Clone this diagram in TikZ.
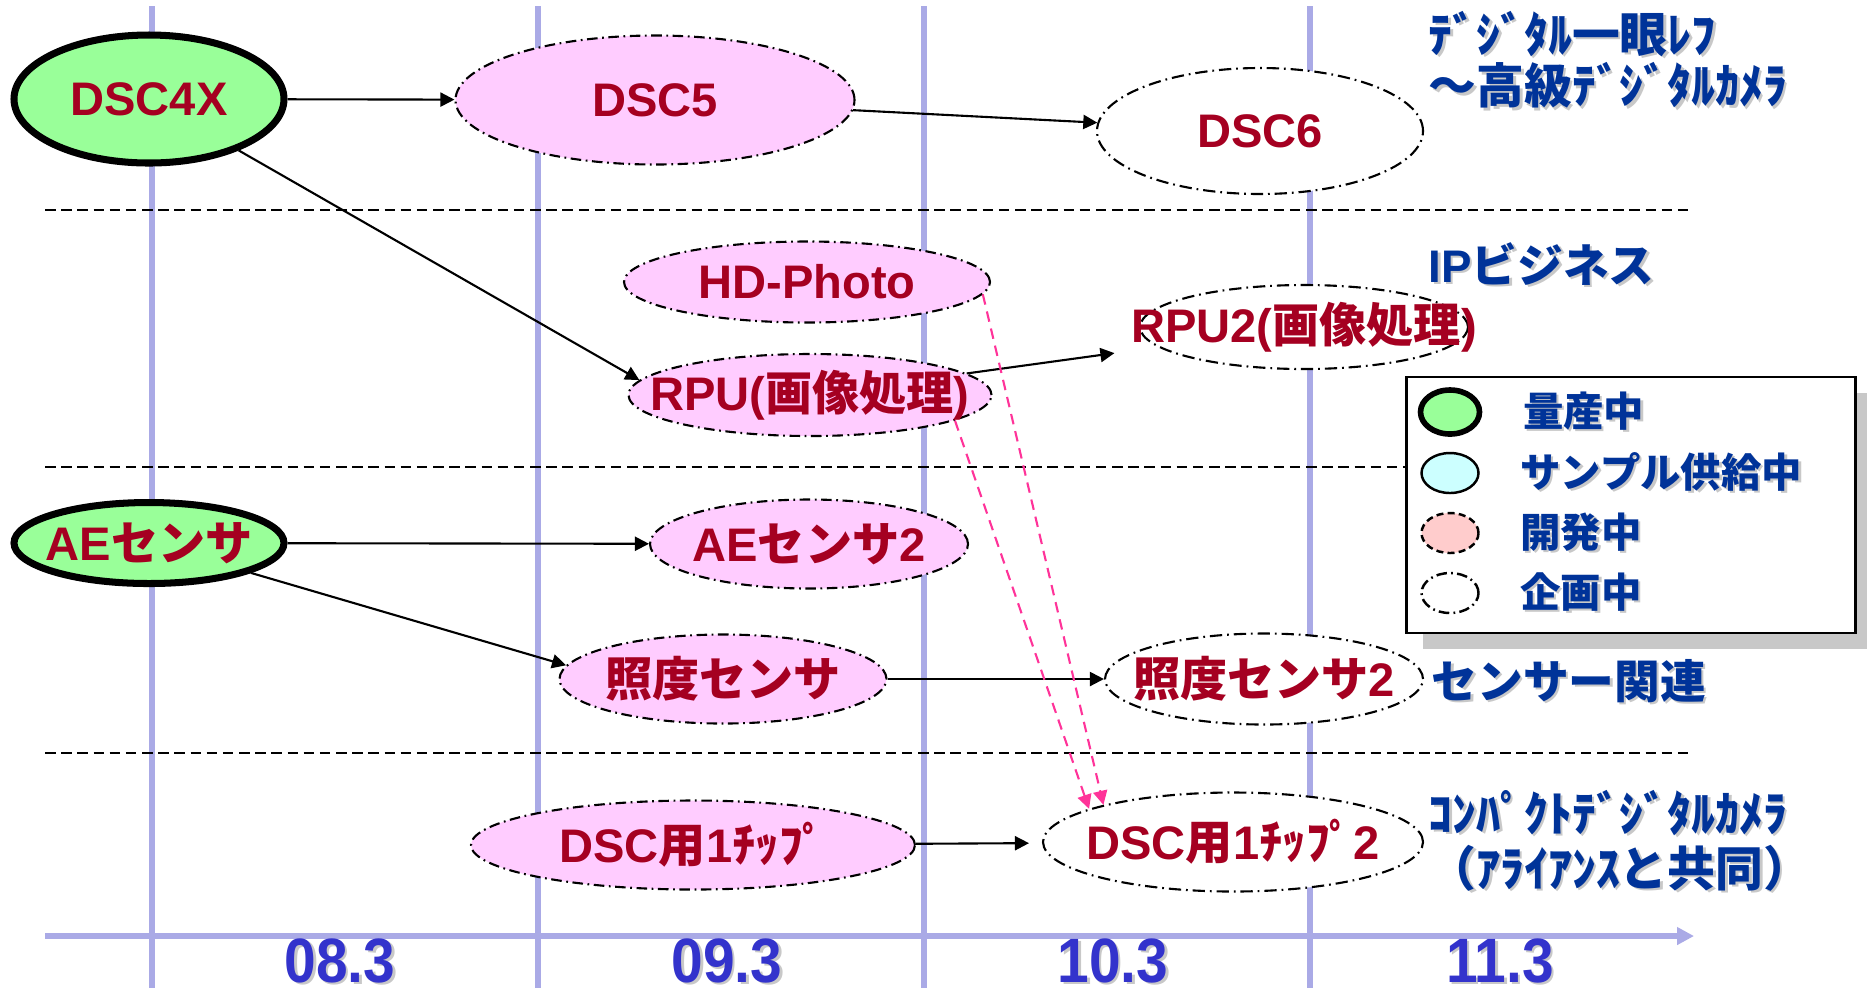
\documentclass[tikz,border=0pt]{standalone}
\usepackage{fontspec}
\setmainfont{Liberation Sans}
\newfontfamily\jp{Noto Sans CJK JP}
\usepackage{tikz}
\usetikzlibrary{arrows.meta,shapes.geometric,positioning,shadows}

\definecolor{nodered}{RGB}{165,0,33}
\definecolor{labelblue}{RGB}{0,51,153}
\definecolor{yearblue}{RGB}{51,51,204}
\definecolor{gridblue}{RGB}{170,170,230}
\definecolor{massgreen}{RGB}{153,255,153}
\definecolor{devpink}{RGB}{255,204,255}
\definecolor{samplecyan}{RGB}{204,255,255}
\definecolor{legendpink}{RGB}{255,204,204}
\definecolor{hintpink}{RGB}{255,51,153}
\definecolor{shadowgray}{RGB}{200,200,200}

\newcommand\phasetext[1]{\makebox[0pt]{#1}}
\newcommand\castshadow[1]{\makebox[0pt][l]{\kern.25mm\raisebox{-.25mm}{\color{shadowgray}#1}}#1}

\begin{document}
\begin{tikzpicture}[x=0.1mm,y=-0.1mm,>={Triangle[length=4pt,width=4pt]},
    gridline/.style={gridblue,line width=1.6pt},
    axisline/.style={gridblue,line width=1.6pt,-{Triangle[length=4.8pt,width=4.8pt]}},
    separator/.style={line width=0.5pt,dash pattern=on 3pt off 1.6pt},
    phase/.style={ellipse,draw,inner sep=0pt,text=nodered,
      font=\fontsize{13.4}{16}\selectfont\bfseries},
    mass/.style={phase,fill=massgreen,line width=2pt},
    dev/.style={phase,fill=devpink,line width=0.6pt,dash pattern=on 3pt off 1.3pt on 0.5pt off 1.3pt},
    plan/.style={phase,fill=white,line width=0.6pt,dash pattern=on 3.5pt off 1.4pt on 0.5pt off 1.4pt},
    flow/.style={->,line width=0.6pt},
    hint/.style={->,hintpink,line width=0.6pt,dash pattern=on 3pt off 2pt},
    catlabel/.style={anchor=west,align=left,inner sep=0pt,text=labelblue,
      font=\jp\fontsize{13}{13.4}\selectfont\bfseries},
    widelabel/.style={catlabel,font=\jp\fontsize{13.6}{13.4}\selectfont\bfseries},
    yearlabel/.style={inner sep=0pt,text=yearblue,font=\fontsize{16.2}{20}\selectfont\bfseries},
    legendbox/.style={draw,fill=white,line width=0.6pt,minimum width=44.9mm,minimum height=25.6mm,
      drop shadow={shadow xshift=1.6mm,shadow yshift=-1.6mm,fill=shadowgray,opacity=1}},
    legkey/.style={ellipse,draw,inner sep=0pt,minimum width=5.7mm,minimum height=4mm,line width=0.7pt},
    legtext/.style={inner sep=0pt,text=labelblue,font=\jp\fontsize{11.5}{13}\selectfont\bfseries}]

  \useasboundingbox (0,0) rectangle (1867,997);

  \foreach \x in {152,538,924,1310}
    \draw[gridline] (\x,6) -- (\x,988);
  \draw[axisline] (45,936) -- (1694,936);
  \foreach \y in {210,467,753}
    \draw[separator] (45,\y) -- (1692,\y);
  \foreach \x/\yr [count=\i] in {340/08.3,727/09.3,1113/10.3,1500/11.3}
    \node[yearlabel] (year\i) at (\x,962) {\scalebox{1}[1.1]{\castshadow{\yr}}};

  \node[mass,minimum width=27mm,minimum height=12.8mm] (dsc4x) at (149,99) {\phasetext{DSC4X}};
  \node[dev,minimum width=39.9mm,minimum height=12.9mm] (dsc5) at (655,100) {\phasetext{DSC5}};
  \node[plan,minimum width=32.6mm,minimum height=12.6mm] (dsc6) at (1260,131) {\phasetext{DSC6}};
  \node[dev,minimum width=36.6mm,minimum height=8.1mm] (hdphoto) at (807,282) {\phasetext{HD-Photo}};
  \node[dev,minimum width=36.3mm,minimum height=8.2mm] (rpu) at (810,395) {\phasetext{RPU({\jp 画像処理})}};
  \node[plan,minimum width=32.8mm,minimum height=8.4mm] (rpu2) at (1304,327) {\phasetext{RPU2({\jp 画像処理})}};
  \node[mass,minimum width=27mm,minimum height=8.1mm] (aesensor) at (149,543) {\phasetext{AE{\jp センサ}}};
  \node[dev,minimum width=31.8mm,minimum height=8.9mm] (aesensor2) at (809,544) {\phasetext{AE{\jp センサ}2}};
  \node[dev,minimum width=32.7mm,minimum height=8.9mm] (lux) at (723,679) {\phasetext{\jp 照度センサ}};
  \node[plan,minimum width=31.8mm,minimum height=9.1mm] (lux2) at (1264,679) {\phasetext{{\jp 照度センサ}2}};
  \node[dev,minimum width=44.4mm,minimum height=8.9mm] (chip) at (693,845) {\phasetext{DSC{\jp 用}1{\jp ﾁｯﾌﾟ}}};
  \node[plan,minimum width=38mm,minimum height=9.9mm] (chip2) at (1233,842) {\phasetext{DSC{\jp 用}1{\jp ﾁｯﾌﾟ}2}};

  \path (dsc4x) edge[flow] (dsc5)
        (dsc5) edge[flow] (dsc6)
        (dsc4x) edge[flow] (rpu.175)
        (rpu) edge[flow,shorten >=4.4mm] (rpu2)
        (aesensor) edge[flow] (aesensor2)
        (aesensor) edge[flow] (lux.175)
        (lux) edge[flow] (lux2)
        (chip) edge[flow,shorten >=1.3mm] (chip2)
        (hdphoto.-4) edge[hint] (chip2.164)
        (rpu.-10) edge[hint] (chip2.167);

  % legend
  \node[legendbox] (legend) at (1631,505) {};
  \node[legkey,fill=massgreen,line width=1.6pt,minimum width=5.9mm,minimum height=4.4mm] (legmass) at (1450,412) {};
  \node[legkey,fill=samplecyan] (legsample) at (1450,473) {};
  \node[legkey,fill=legendpink,dash pattern=on 2pt off 1.2pt] (legdev) at (1450,533) {};
  \node[legkey,fill=white,dash pattern=on 3pt off 1.2pt on 0.5pt off 1.2pt] (legplan) at (1450,593) {};
  \node[legtext,right=4mm of legmass] (legmasstext) {\castshadow{量産中}};
  \node[legtext,right=4mm of legsample] (legsampletext) {\castshadow{サンプル供給中}};
  \node[legtext,right=4mm of legdev] (legdevtext) {\castshadow{開発中}};
  \node[legtext,right=4mm of legplan] (legplantext) {\castshadow{企画中}};

  \node[widelabel] (slr) at (1428,61) {\castshadow{ﾃﾞｼﾞﾀﾙ一眼ﾚﾌ}\\\castshadow{～高級ﾃﾞｼﾞﾀﾙｶﾒﾗ}};
  \node[catlabel] (ipbiz) at (1428,265) {\castshadow{{\rmfamily IP}ビジネス}};
  \node[catlabel] (sensors) at (1431,682) {\castshadow{センサー関連}};
  \node[widelabel] (compact) at (1428,842) {\castshadow{ｺﾝﾊﾟｸﾄﾃﾞｼﾞﾀﾙｶﾒﾗ}\\[1pt]\castshadow{（ｱﾗｲｱﾝｽと共同）}};

\end{tikzpicture}
\end{document}
